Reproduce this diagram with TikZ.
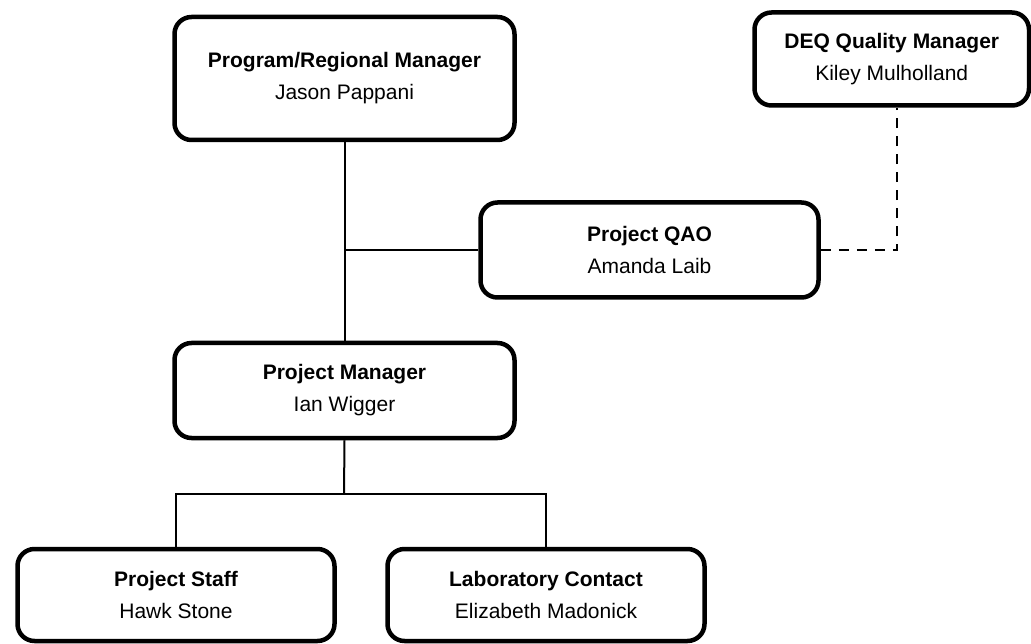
\documentclass[tikz,border=0pt]{standalone}
\usepackage{fontspec}
\setmainfont{Liberation Sans}
\begin{document}
\begin{tikzpicture}[x=1pt,y=-1pt,
  box/.style={draw=black, line width=4.5pt, rounded corners=17pt, inner sep=0pt,
    align=center, font=\fontsize{21}{32}\selectfont},
  conn/.style={draw=black, line width=2pt},
  dconn/.style={draw=black, line width=2pt, dash pattern=on 10pt off 8pt}]
\useasboundingbox (0,0) rectangle (1031,644);
\clip (0,0) rectangle (1031,644);
\node[box, minimum width=340pt, minimum height=123pt] (prog) at (344.5,78.5)
  {\textbf{Program/Regional Manager}\\Jason Pappani};
\node[box, minimum width=274.5pt, minimum height=93pt] (deq) at (891.75,59)
  {\textbf{DEQ Quality Manager}\\Kiley Mulholland};
\node[box, minimum width=338pt, minimum height=95pt] (qao) at (649.5,250)
  {\textbf{Project QAO}\\Amanda Laib};
\node[box, minimum width=340pt, minimum height=95pt] (pm) at (344.5,390.5)
  {\textbf{Project Manager}\\Ian Wigger};
\node[box, minimum width=317pt, minimum height=92pt] (staff) at (176,595)
  {\textbf{Project Staff}\\Hawk Stone};
\node[box, minimum width=317pt, minimum height=92pt] (lab) at (546,595)
  {\textbf{Laboratory Contact}\\Elizabeth Madonick};
\coordinate (j1) at (344,250);
\coordinate (j2) at (344,494);
\coordinate (dc) at (897,250);
\draw[conn] (prog.south) -- (pm.north);
\draw[conn] (j1) -- (qao.west);
\draw[dconn] (qao.east) -- (dc) -- (dc |- deq.south);
\draw[conn] (pm.south) -- (j2);
\draw[conn] (staff.north) |- (j2) -| (lab.north);
\end{tikzpicture}
\end{document}
